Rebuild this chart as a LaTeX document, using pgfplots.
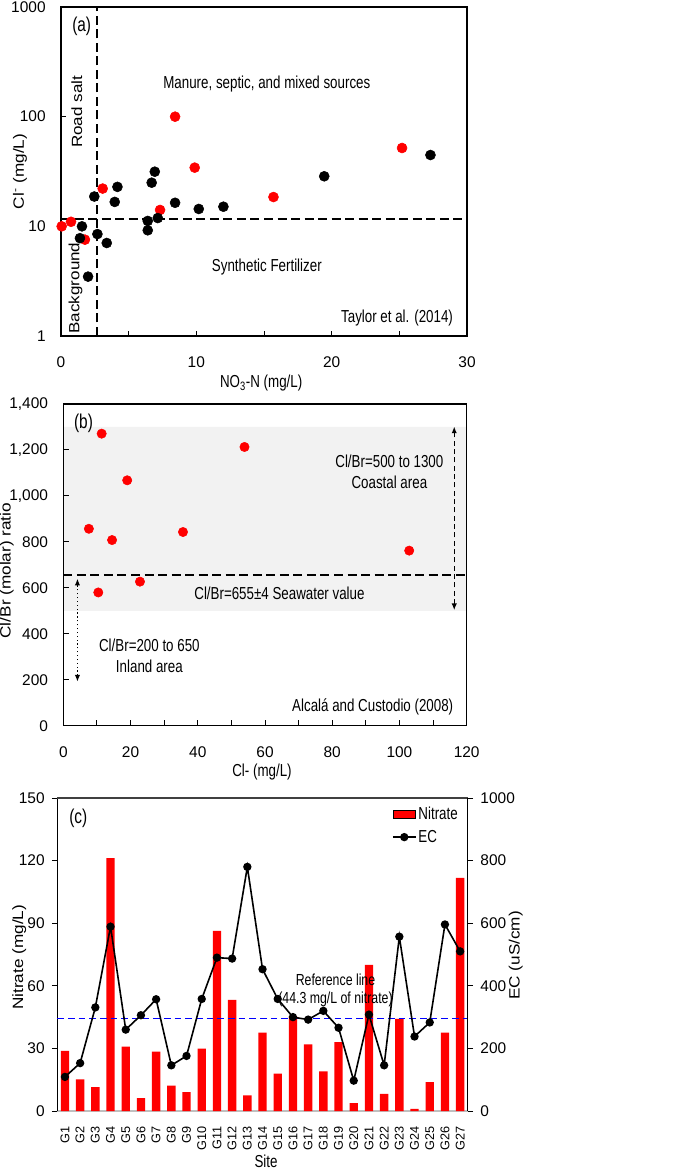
\documentclass[border=0pt]{standalone}
\usepackage{fontspec}
\setmainfont{Liberation Sans}
\newfontfamily\condf{Liberation Sans}[FakeStretch=0.77]
\newfontfamily\rotf{Liberation Sans}[FakeStretch=1.15]
\usepackage{pgfplots}
\pgfplotsset{compat=1.18}
\usetikzlibrary{arrows.meta}
\newcommand{\ct}{\condf\fontsize{13}{15.6}\selectfont}
\newcommand{\pt}{\condf\fontsize{15}{18}\selectfont}
\newcommand{\rt}{\rotf\fontsize{11.2}{13}\selectfont}
\definecolor{band}{HTML}{F2F2F2}
\pgfplotsset{
  every axis/.append style={
    scale only axis,
    axis line style={line width=0.8pt},
    every tick/.style={black, line width=0.7pt},
    /pgf/number format/assume math mode=true,
    tick label style={font=\fontsize{11.6}{13}\selectfont},
    major tick length=4pt, minor tick length=2.5pt,
  },
  dashline/.style={black, line width=1.5pt, dash pattern=on 6.75pt off 3.4pt},
}
\begin{document}
\begin{tikzpicture}
\path[use as bounding box] (0pt,0pt) rectangle (513.75pt,-876.75pt);

% ---------------- Panel (a)
\begin{axis}[
  at={(45.75pt,-5.25pt)}, anchor=north west,
  width=304.5pt, height=246.75pt,
  xmin=0, xmax=30, ymin=1, ymax=1000, ymode=log, log basis y=10,
  xtick={0,5,...,30}, xticklabels={0,,10,,20,,30},
  ytick={1,10,100,1000}, yticklabels={1,10,100,1000},
  tick pos=left, tick align=inside,
  xticklabel style={yshift=-12pt},
  yticklabel style={xshift=-8pt},
  xlabel={NO\textsubscript{3}-N (mg/L)},
  ylabel={Cl\textsuperscript{-} (mg/L)},
  xlabel style={at={(axis description cs:0.493,-0.143)}, anchor=center, font=\ct},
  ylabel style={at={(axis description cs:-0.101,0.5)}, anchor=center, font=\rt},
  clip=false,
]
\addplot[dashline] coordinates {(0,11.7) (30,11.7)};
\addplot[dashline] coordinates {(2.64,1) (2.64,1000)};
\addplot[only marks, mark=*, mark size=3.75pt, color=red] coordinates {
 (0.05,10.0) (0.74,11.0) (1.77,7.56) (3.08,22.1) (8.43,100) (7.32,14.1)
 (9.88,34.3) (15.7,18.5) (25.2,51.8)};
\addplot[only marks, mark=*, mark size=3.75pt, color=black] coordinates {
 (1.55,10.0) (1.40,7.8) (2.0,3.48) (2.46,18.7) (2.69,8.5) (3.38,7.05)
 (3.97,16.7) (4.17,22.9) (6.41,11.2) (6.41,9.2) (6.70,25.0) (6.93,31.5)
 (7.15,11.9) (8.43,16.4) (10.18,14.4) (12.0,15.1) (19.45,28.6) (27.3,44.7)};
\node[font=\pt] at (rel axis cs:0.051,0.940) {(a)};
\node[font=\rotf\fontsize{11.1}{13}\selectfont, rotate=90] at (rel axis cs:0.039,0.681) {Road salt};
\node[font=\rotf\fontsize{11.1}{13}\selectfont, rotate=90] at (rel axis cs:0.036,0.146) {Background};
\node[font=\ct] at (rel axis cs:0.507,0.766) {Manure, septic, and mixed sources};
\node[font=\ct] at (rel axis cs:0.507,0.211) {Synthetic Fertilizer};
\node[font=\ct, anchor=east] at (rel axis cs:0.977,0.054) {Taylor et al. (2014)};
\end{axis}

% ---------------- Panel (b)
\begin{axis}[
  at={(47.5pt,-303pt)}, anchor=north west,
  width=302.5pt, height=241.3pt,
  xmin=0, xmax=120, ymin=0, ymax=1400,
  xtick={0,10,...,120}, xticklabels={0,,20,,40,,60,,80,,100,,120},
  ytick={0,200,...,1400}, yticklabels={0,200,400,600,800,{1,000},{1,200},{1,400}},
  tick pos=left, tick align=inside,
  xticklabel style={yshift=-12pt},
  yticklabel style={xshift=-8pt},
  xlabel={Cl- (mg/L)},
  ylabel={Cl/Br (molar) ratio},
  xlabel style={at={(axis description cs:0.4926,-0.143)}, anchor=center, font=\ct},
  ylabel style={at={(axis description cs:-0.140,0.482)}, anchor=center, font=\rt},
  clip=false, axis on top,
]
\addplot[fill=band, draw=none] coordinates {(0,500) (120,500) (120,1300) (0,1300) (0,500)};
\addplot[dashline] coordinates {(0,655) (120,655)};
\addplot[only marks, mark=*, mark size=3.5pt, color=red] coordinates {
 (11.4,1271) (53.9,1213) (19.0,1068) (7.6,857) (14.5,808) (35.6,843)
 (102.9,762) (10.4,580) (22.8,627)};
\draw[black, line width=0.9pt, dash pattern=on 3.75pt off 2.5pt, {Latex[length=5pt,width=4pt]}-{Latex[length=5pt,width=4pt]}] (axis cs:116.3,503) -- (axis cs:116.3,1302);
\draw[black, line width=0.9pt, dotted, {Latex[length=5pt,width=4pt]}-{Latex[length=5pt,width=4pt]}] (axis cs:4.2,192) -- (axis cs:4.2,640);
\node[font=\pt] at (axis cs:6,1316) {(b)};
\node[font=\ct] at (axis cs:97.0,1152) {Cl/Br=500 to 1300};
\node[font=\ct] at (axis cs:97.0,1061) {Coastal area};
\node[font=\ct] at (axis cs:64.3,575) {Cl/Br=655±4 Seawater value};
\node[font=\ct] at (axis cs:25.6,351) {Cl/Br=200 to 650};
\node[font=\ct] at (axis cs:25.6,260) {Inland area};
\node[font=\ct, anchor=east] at (axis cs:117.4,83) {Alcalá and Custodio (2008)};
\end{axis}

% ---------------- Panel (c) left axis
\begin{axis}[
  at={(43pt,-598.5pt)}, anchor=north west,
  width=307.8pt, height=234.75pt,
  xmin=0.5, xmax=27.5, ymin=0, ymax=150,
  ytick={0,30,...,150},
  xtick={1,...,27},
  xticklabels={G1,G2,G3,G4,G5,G6,G7,G8,G9,G10,G11,G12,G13,G14,G15,G16,G17,G18,G19,G20,G21,G22,G23,G24,G25,G26,G27},
  xticklabel style={rotate=90, anchor=east, font=\fontsize{9.5}{11}\selectfont, xshift=-4pt},
  axis y line*=left, axis x line*=bottom,
  x axis line style={draw=black!25, line width=0.8pt},
  xtick style={draw=none},
  tick align=outside,
  yticklabel style={xshift=-2pt},
  xlabel={Site}, ylabel={Nitrate (mg/L)},
  xlabel style={at={(axis description cs:0.5085,-0.161)}, anchor=center, font=\ct},
  ylabel style={at={(axis description cs:-0.093,0.491)}, anchor=center, font=\rt},
  clip=false,
]
\addplot[ybar, bar width=0.55, fill=red, draw=none] coordinates {
 (1,28.8) (2,15.2) (3,11.5) (4,121.2) (5,30.9) (6,6.2) (7,28.5) (8,12.2) (9,9.0)
 (10,29.9) (11,86.3) (12,53.3) (13,7.5) (14,37.6) (15,17.9) (16,45.5) (17,31.9)
 (18,19.0) (19,33.0) (20,3.8) (21,70.0) (22,8.2) (23,44.2) (24,1.0) (25,13.9)
 (26,37.6) (27,111.7)};
\addplot[blue, line width=1.1pt, dash pattern=on 5pt off 3pt] coordinates {(0.5,44.3) (27.5,44.3)};
\node[font=\condf\fontsize{12}{14}\selectfont] at (axis cs:18.8,63.1) {Reference line};
\node[font=\condf\fontsize{12}{14}\selectfont] at (axis cs:18.8,53.6) {(44.3 mg/L of nitrate)};
\node[font=\pt] at (axis cs:1.88,140.1) {(c)};
\end{axis}

% ---------------- Panel (c) right axis
\begin{axis}[
  at={(43pt,-598.5pt)}, anchor=north west,
  width=307.8pt, height=234.75pt,
  xmin=0.5, xmax=27.5, ymin=0, ymax=1000,
  ytick={0,200,...,1000},
  /pgf/number format/1000 sep={},
  xtick=\empty,
  axis y line*=right, axis x line*=top,
  x axis line style={draw=black!75, line width=0.8pt},
  tick align=outside,
  yticklabel style={xshift=2pt},
  ylabel={EC (uS/cm)},
  ylabel style={at={(axis description cs:1.117,0.497)}, anchor=center, font=\rt, rotate=0},
  legend style={at={(axis description cs:0.815,0.979)}, anchor=north west, draw=none, fill=none,
    font=\condf\fontsize{13}{15}\selectfont, row sep=3.5pt, inner sep=0pt,
    nodes={inner sep=1.5pt}},
  legend cell align=left,
  clip=false,
]
\addlegendimage{area legend, fill=red, draw=none}
\addlegendentry{Nitrate}
\addplot[black, line width=1.2pt, mark=*, mark size=2.5pt] coordinates {
 (1,109) (2,153) (3,331) (4,589) (5,260) (6,306) (7,357) (8,146) (9,176)
 (10,358) (11,490) (12,487) (13,780) (14,453) (15,358) (16,300) (17,292)
 (18,320) (19,266) (20,97) (21,308) (22,146) (23,557) (24,238) (25,283)
 (26,596) (27,510)};
\addlegendentry{EC}
\end{axis}
\end{tikzpicture}
\end{document}
